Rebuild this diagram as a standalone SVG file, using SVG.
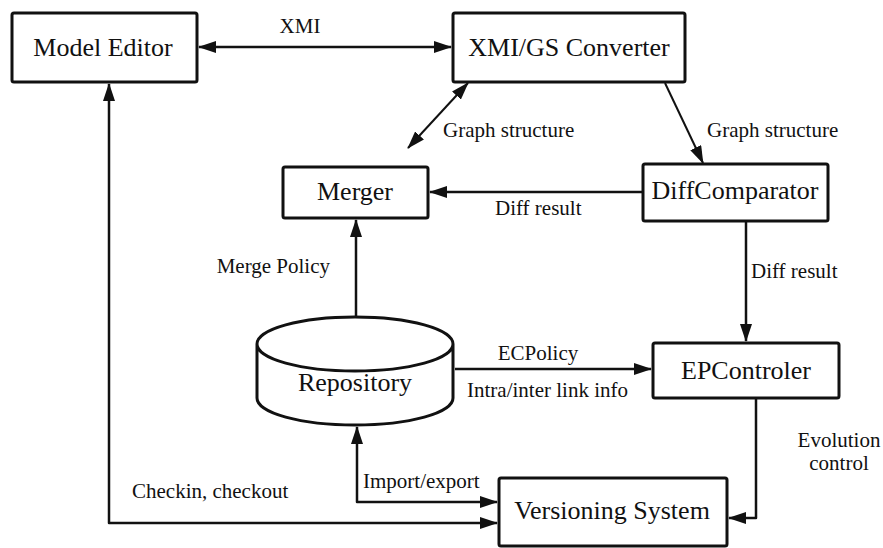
<svg xmlns="http://www.w3.org/2000/svg" width="883" height="548" viewBox="0 0 883 548" font-family="Liberation Serif, DejaVu Serif, Times New Roman, serif">
<style>
.box{fill:#fff;stroke:#111;stroke-width:3}
.cyl{fill:#fff;stroke:#111;stroke-width:3}
.big{font-size:26px;text-anchor:middle;fill:#111}
.lbl{font-size:21px;fill:#111}
.c{fill:none;stroke:#111;stroke-width:2.5;stroke-linejoin:round}
.d{fill:none;stroke:#111;stroke-width:2}
</style>
<defs>
<marker id="ah" markerUnits="userSpaceOnUse" markerWidth="18" markerHeight="12" refX="17" refY="6" orient="auto-start-reverse">
<path d="M0,0 L18,6 L0,12 z" fill="#111"/>
</marker>
</defs>
<rect width="883" height="548" fill="#fff"/>
<g id="connectors">
<line class="c" x1="199" y1="47" x2="451" y2="47" marker-start="url(#ah)" marker-end="url(#ah)"/>
<line class="d" x1="468" y1="83" x2="408" y2="148" marker-start="url(#ah)" marker-end="url(#ah)"/>
<line class="d" x1="665" y1="83" x2="703" y2="163" marker-end="url(#ah)"/>
<line class="c" x1="643" y1="192" x2="430" y2="192" marker-end="url(#ah)"/>
<line class="c" x1="746" y1="221" x2="746" y2="341" marker-end="url(#ah)"/>
<line class="c" x1="356" y1="317" x2="356" y2="220" marker-end="url(#ah)"/>
<line class="c" x1="455" y1="369" x2="651" y2="369" marker-end="url(#ah)"/>
<polyline class="c" points="357,427 357,502 497,502" marker-start="url(#ah)" marker-end="url(#ah)"/>
<polyline class="c" points="109,84 109,523 497,523" marker-start="url(#ah)" marker-end="url(#ah)"/>
<polyline class="c" points="756,398 756,518 729,518" marker-end="url(#ah)"/>
<text class="lbl" x="300" y="33" text-anchor="middle" font-size="19">XMI</text>
<text class="lbl" x="443" y="137">Graph structure</text>
<text class="lbl" x="707" y="137">Graph structure</text>
<text class="lbl" x="495" y="215">Diff result</text>
<text class="lbl" x="751" y="278">Diff result</text>
<text class="lbl" x="330" y="273" text-anchor="end">Merge Policy</text>
<text class="lbl" x="538" y="360" text-anchor="middle">ECPolicy</text>
<text class="lbl" x="467" y="397">Intra/inter link info</text>
<text class="lbl" x="363" y="488">Import/export</text>
<text class="lbl" x="132" y="498">Checkin, checkout</text>
<text class="lbl" x="839" y="447" text-anchor="middle">Evolution</text>
<text class="lbl" x="839" y="470" text-anchor="middle">control</text>
</g>
<g id="model-editor">
<rect class="box" x="12" y="13" width="185" height="69" rx="2"/>
<text class="big" x="103" y="56">Model Editor</text>
</g>
<g id="xmi-gs-converter">
<rect class="box" x="453" y="13" width="232" height="69" rx="2"/>
<text class="big" x="569" y="56">XMI/GS Converter</text>
</g>
<g id="merger">
<rect class="box" x="283" y="167" width="145" height="51" rx="2"/>
<text class="big" x="355" y="200">Merger</text>
</g>
<g id="diff-comparator">
<rect class="box" x="643" y="164" width="185" height="57" rx="2"/>
<text class="big" x="735" y="199">DiffComparator</text>
</g>
<g id="ep-controler">
<rect class="box" x="653" y="343" width="186" height="55" rx="2"/>
<text class="big" x="746" y="379">EPControler</text>
</g>
<g id="repository">
<path class="cyl" d="M257,344 L257,398 A98,27 0 0 0 453,398 L453,344 A98,27 0 0 0 257,344 A98,27 0 0 0 453,344"/>
<text class="big" x="355" y="391">Repository</text>
</g>
<g id="versioning-system">
<rect class="box" x="499" y="478" width="228" height="68" rx="2"/>
<text class="big" x="612" y="519">Versioning System</text>
</g>
</svg>
